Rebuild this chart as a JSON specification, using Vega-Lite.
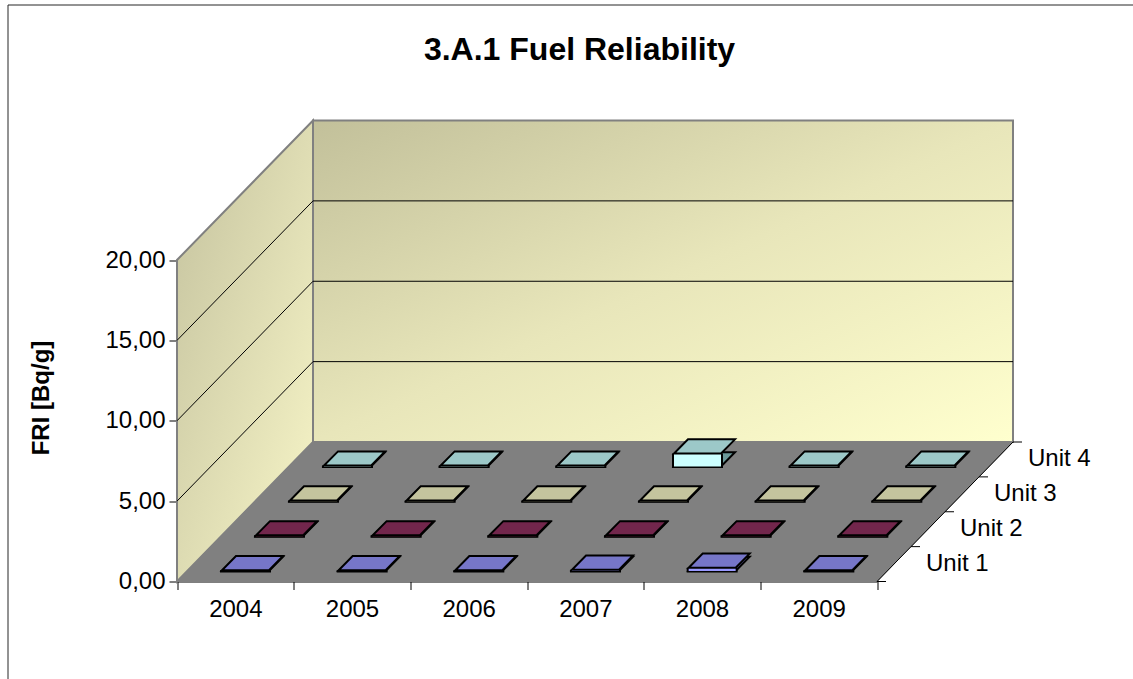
{
  "$schema": "https://vega.github.io/schema/vega-lite/v6.json",
  "width": 1133,
  "height": 680,
  "autosize": {"type": "none"},
  "padding": {"left": 7.5, "top": 4.5, "right": 0, "bottom": 0},
  "background": "white",
  "config": {
    "view": {"stroke": "#262626", "strokeWidth": 1},
    "font": "Liberation Sans",
    "axis": {"labelFont": "Liberation Sans", "titleFont": "Liberation Sans", "labelColor": "#000", "titleColor": "#000", "domainColor": "#000", "tickColor": "#000", "grid": false, "zindex": 1}
  },
  "title": {
    "text": "3.A.1 Fuel Reliability",
    "frame": "group",
    "anchor": "middle",
    "orient": "top",
    "offset": 0,
    "dx": 5.5,
    "dy": 87.5,
    "baseline": "alphabetic",
    "font": "Liberation Sans",
    "fontSize": 32,
    "fontWeight": "bold",
    "color": "#000"
  },
  "datasets": {
    "fri": [
      {"year": 2004, "unit": "Unit 1", "v": 0.05},
      {"year": 2005, "unit": "Unit 1", "v": 0.05},
      {"year": 2006, "unit": "Unit 1", "v": 0.05},
      {"year": 2007, "unit": "Unit 1", "v": 0.08},
      {"year": 2008, "unit": "Unit 1", "v": 0.2},
      {"year": 2009, "unit": "Unit 1", "v": 0.05},
      {"year": 2004, "unit": "Unit 2", "v": 0.05},
      {"year": 2005, "unit": "Unit 2", "v": 0.05},
      {"year": 2006, "unit": "Unit 2", "v": 0.05},
      {"year": 2007, "unit": "Unit 2", "v": 0.05},
      {"year": 2008, "unit": "Unit 2", "v": 0.05},
      {"year": 2009, "unit": "Unit 2", "v": 0.05},
      {"year": 2004, "unit": "Unit 3", "v": 0.05},
      {"year": 2005, "unit": "Unit 3", "v": 0.05},
      {"year": 2006, "unit": "Unit 3", "v": 0.05},
      {"year": 2007, "unit": "Unit 3", "v": 0.05},
      {"year": 2008, "unit": "Unit 3", "v": 0.05},
      {"year": 2009, "unit": "Unit 3", "v": 0.05},
      {"year": 2004, "unit": "Unit 4", "v": 0.05},
      {"year": 2005, "unit": "Unit 4", "v": 0.05},
      {"year": 2006, "unit": "Unit 4", "v": 0.05},
      {"year": 2007, "unit": "Unit 4", "v": 0.8},
      {"year": 2008, "unit": "Unit 4", "v": 0.05},
      {"year": 2009, "unit": "Unit 4", "v": 0.05}
    ],
    "frame": [
      {"piece": "back", "kind": "wall", "k": 0, "side": "L", "lvl": 0, "d": 4},
      {"piece": "back", "kind": "wall", "k": 1, "side": "R", "lvl": 0, "d": 4},
      {"piece": "back", "kind": "wall", "k": 2, "side": "R", "lvl": 20, "d": 4},
      {"piece": "back", "kind": "wall", "k": 3, "side": "L", "lvl": 20, "d": 4},
      {"piece": "left", "kind": "wall", "k": 0, "side": "L", "lvl": 0, "d": 0},
      {"piece": "left", "kind": "wall", "k": 1, "side": "L", "lvl": 20, "d": 0},
      {"piece": "left", "kind": "wall", "k": 2, "side": "L", "lvl": 20, "d": 4},
      {"piece": "left", "kind": "wall", "k": 3, "side": "L", "lvl": 0, "d": 4},
      {"piece": "floor", "kind": "floor", "k": 0, "side": "L", "lvl": 0, "d": 0},
      {"piece": "floor", "kind": "floor", "k": 1, "side": "R", "lvl": 0, "d": 0},
      {"piece": "floor", "kind": "floor", "k": 2, "side": "R", "lvl": 0, "d": 4},
      {"piece": "floor", "kind": "floor", "k": 3, "side": "L", "lvl": 0, "d": 4},
      {"piece": "b5", "kind": "grid", "k": 0, "side": "L", "lvl": 5, "d": 4},
      {"piece": "b5", "kind": "grid", "k": 1, "side": "R", "lvl": 5, "d": 4},
      {"piece": "b10", "kind": "grid", "k": 0, "side": "L", "lvl": 10, "d": 4},
      {"piece": "b10", "kind": "grid", "k": 1, "side": "R", "lvl": 10, "d": 4},
      {"piece": "b15", "kind": "grid", "k": 0, "side": "L", "lvl": 15, "d": 4},
      {"piece": "b15", "kind": "grid", "k": 1, "side": "R", "lvl": 15, "d": 4},
      {"piece": "l5", "kind": "grid", "k": 0, "side": "L", "lvl": 5, "d": 0},
      {"piece": "l5", "kind": "grid", "k": 1, "side": "L", "lvl": 5, "d": 4},
      {"piece": "l10", "kind": "grid", "k": 0, "side": "L", "lvl": 10, "d": 0},
      {"piece": "l10", "kind": "grid", "k": 1, "side": "L", "lvl": 10, "d": 4},
      {"piece": "l15", "kind": "grid", "k": 0, "side": "L", "lvl": 15, "d": 0},
      {"piece": "l15", "kind": "grid", "k": 1, "side": "L", "lvl": 15, "d": 4},
      {"piece": "units", "kind": "axis", "k": 0, "side": "R", "lvl": 0, "d": 0},
      {"piece": "units", "kind": "axis", "k": 1, "side": "R", "lvl": 0, "d": 4}
    ]
  },
  "layer": [
    {
      "data": {"name": "frame"},
      "encoding": {
        "x": {"field": "side", "type": "ordinal", "scale": {"type": "point", "domain": ["L", "R"], "range": [169.5, 869.5], "padding": 0}, "axis": null},
        "xOffset": {"field": "d", "type": "quantitative", "scale": {"domain": [0, 4], "range": [0, 136]}},
        "y": {
          "field": "lvl", "type": "ordinal",
          "scale": {"type": "point", "domain": [0, 5, 10, 15, 20], "range": [577, 255.5], "padding": 0},
          "axis": {
            "orient": "left", "offset": -169.5,
            "title": "FRI [Bq/g]", "titleFontSize": 24, "titleFontWeight": "bold",
            "titleAngle": 270, "titleX": -136, "titleY": 393, "titleAlign": "center", "titleBaseline": "middle",
            "labelExpr": "replace(format(datum.value, '.2f'), '.', ',')",
            "labelFontSize": 24, "labelPadding": 4, "tickSize": 8, "labelBaseline": "middle"
          }
        },
        "yOffset": {"field": "d", "type": "quantitative", "scale": {"domain": [0, 4], "range": [0, -139.5]}},
        "order": {"field": "k", "type": "quantitative"}
      },
      "layer": [
        {
          "transform": [{"filter": {"field": "piece", "equal": "back"}}],
          "mark": {
            "type": "line", "interpolate": "linear-closed", "stroke": "#808080", "strokeWidth": 2,
            "fill": {"gradient": "linear", "x1": 0, "y1": 0, "x2": 1, "y2": 1,
              "stops": [{"offset": 0, "color": "#C2C09A"}, {"offset": 0.5, "color": "#E8E6BA"}, {"offset": 1, "color": "#FFFFCE"}]}
          }
        },
        {
          "transform": [{"filter": {"field": "piece", "equal": "left"}}],
          "mark": {
            "type": "line", "interpolate": "linear-closed", "stroke": "#808080", "strokeWidth": 2,
            "fill": {"gradient": "linear", "x1": 0, "y1": 0, "x2": 1, "y2": 1,
              "stops": [{"offset": 0, "color": "#C4C29E"}, {"offset": 1, "color": "#F8F6C8"}]}
          }
        },
        {
          "transform": [{"filter": {"field": "kind", "equal": "grid"}}],
          "mark": {"type": "line", "stroke": "#000", "strokeWidth": 1},
          "encoding": {"detail": {"field": "piece"}}
        },
        {
          "transform": [{"filter": {"field": "piece", "equal": "floor"}}],
          "mark": {"type": "line", "interpolate": "linear-closed", "stroke": "#808080", "strokeWidth": 1, "fill": "#808080"}
        },
        {
          "transform": [{"filter": {"field": "kind", "equal": "axis"}}],
          "mark": {"type": "line", "stroke": "#000", "strokeWidth": 1}
        }
      ]
    },
    {
      "data": {"name": "fri"},
      "encoding": {
        "x": {
          "field": "year", "type": "ordinal",
          "scale": {"type": "band", "domain": [2004, 2005, 2006, 2007, 2008, 2009], "range": [169.5, 869.5], "paddingInner": 0, "paddingOuter": 0},
          "axis": {"orient": "bottom", "offset": -103, "title": null, "tickBand": "extent", "tickSize": 8, "labelFontSize": 24, "labelPadding": 8, "labelAngle": 0}
        },
        "xOffset": {"field": "unit", "type": "nominal", "scale": {"type": "band", "domain": ["Unit 1", "Unit 2", "Unit 3", "Unit 4"], "range": [51.5, 187.5], "paddingInner": 0, "paddingOuter": 0}},
        "y": {"field": "unit", "type": "nominal", "scale": {"type": "point", "domain": ["Unit 1", "Unit 2", "Unit 3", "Unit 4"], "range": [566.5, 461.9], "padding": 0}, "axis": null}
      },
      "layer": [
        {
          "mark": {"type": "point", "shape": "M-23.5,0L23.5,0L37.5,-14.2L-9.5,-14.2Z", "size": 4, "filled": true, "stroke": "#000", "strokeWidth": 2, "opacity": 1},
          "encoding": {
            "fill": {"field": "unit", "type": "nominal", "scale": {"domain": ["Unit 1", "Unit 2", "Unit 3", "Unit 4"], "range": ["#5C5C99", "#5C1F3D", "#99997A", "#6B9999"]}, "legend": null}
          }
        },
        {
          "mark": {"type": "rule", "stroke": "#000", "strokeWidth": 51, "y2Offset": 1.5},
          "encoding": {
            "yOffset": {"field": "v", "type": "quantitative", "scale": {"domain": [0, 20], "range": [0, -321.5]}},
            "y2": {"field": "unit"}
          }
        },
        {
          "mark": {"type": "rule", "strokeWidth": 47, "strokeCap": "butt", "opacity": 1},
          "encoding": {
            "yOffset": {"field": "v", "type": "quantitative", "scale": {"domain": [0, 20], "range": [0, -321.5]}},
            "y2": {"field": "unit"},
            "color": {"field": "unit", "type": "nominal", "scale": {"domain": ["Unit 1", "Unit 2", "Unit 3", "Unit 4"], "range": ["#9999FF", "#993366", "#FFFFCC", "#CCFFFF"]}, "legend": null}
          }
        },
        {
          "mark": {"type": "point", "shape": "M-23.5,0L23.5,0L37.5,-14.2L-9.5,-14.2Z", "size": 4, "filled": true, "stroke": "#000", "strokeWidth": 2, "opacity": 1},
          "encoding": {
            "yOffset": {"field": "v", "type": "quantitative", "scale": {"domain": [0, 20], "range": [0, -321.5]}},
            "fill": {"field": "unit", "type": "nominal", "scale": {"domain": ["Unit 1", "Unit 2", "Unit 3", "Unit 4"], "range": ["#7676C8", "#72264C", "#C4C49E", "#9CC8C8"]}, "legend": null}
          }
        }
      ],
      "resolve": {"scale": {"fill": "independent"}}
    },
    {
      "data": {"name": "fri"},
      "transform": [{"filter": "datum.year == 2004"}],
      "layer": [
        {
          "mark": {"type": "text", "align": "left", "baseline": "middle", "dx": 32, "fontSize": 24, "font": "Liberation Sans", "color": "#000"},
          "encoding": {
            "x": {"field": "unit", "type": "nominal", "scale": {"type": "band", "domain": ["Unit 1", "Unit 2", "Unit 3", "Unit 4"], "range": [869.5, 1005.5], "paddingInner": 0, "paddingOuter": 0}, "axis": null},
            "y": {"field": "unit", "type": "nominal", "scale": {"type": "band", "domain": ["Unit 1", "Unit 2", "Unit 3", "Unit 4"], "range": [577, 437.5], "paddingInner": 0, "paddingOuter": 0}, "axis": null},
            "text": {"field": "unit"}
          }
        },
        {
          "mark": {"type": "point", "shape": "M0,0H9", "size": 4, "filled": false, "stroke": "#000", "strokeWidth": 1, "opacity": 1},
          "encoding": {
            "x": {"field": "unit", "type": "nominal", "bandPosition": 1, "scale": {"type": "band", "domain": ["Unit 1", "Unit 2", "Unit 3", "Unit 4"], "range": [869.5, 1005.5], "paddingInner": 0, "paddingOuter": 0}, "axis": null},
            "y": {"field": "unit", "type": "nominal", "bandPosition": 0, "scale": {"type": "band", "domain": ["Unit 1", "Unit 2", "Unit 3", "Unit 4"], "range": [577, 437.5], "paddingInner": 0, "paddingOuter": 0}, "axis": null}
          }
        },
        {
          "transform": [{"filter": "datum.unit == 'Unit 1'"}],
          "mark": {"type": "point", "shape": "M0,0H9", "size": 4, "filled": false, "stroke": "#000", "strokeWidth": 1, "opacity": 1},
          "encoding": {
            "x": {"field": "unit", "type": "nominal", "bandPosition": 0, "scale": {"type": "band", "domain": ["Unit 1", "Unit 2", "Unit 3", "Unit 4"], "range": [869.5, 1005.5], "paddingInner": 0, "paddingOuter": 0}, "axis": null},
            "y": {"field": "unit", "type": "nominal", "bandPosition": 1, "scale": {"type": "band", "domain": ["Unit 1", "Unit 2", "Unit 3", "Unit 4"], "range": [577, 437.5], "paddingInner": 0, "paddingOuter": 0}, "axis": null}
          }
        }
      ]
    }
  ],
  "resolve": {
    "scale": {"x": "independent", "y": "independent", "xOffset": "independent", "yOffset": "independent", "fill": "independent", "color": "independent"},
    "axis": {"x": "independent", "y": "independent"}
  }
}
